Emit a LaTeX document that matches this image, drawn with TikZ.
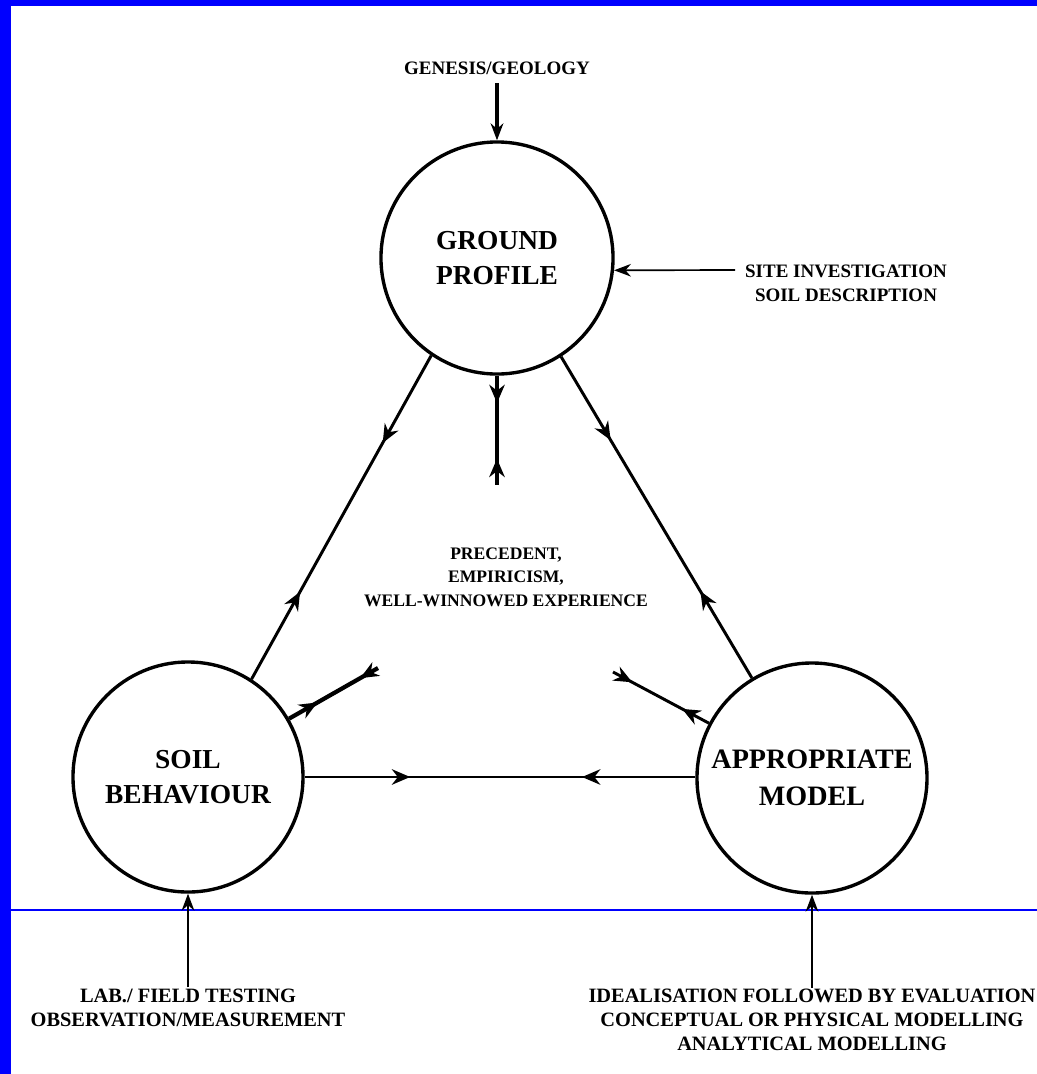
\documentclass[tikz,border=0pt]{standalone}
\usepackage{fontspec}
\setmainfont{Liberation Serif}
\usetikzlibrary{arrows.meta,decorations.markings}

\definecolor{frameblue}{RGB}{0,0,255}

\tikzset{
  phase/.style={circle, draw, line width=2.4pt, minimum size=5.75cm, inner sep=0pt,
    align=center, font=\fontsize{19.5}{25}\selectfont\bfseries},
  note/.style={align=center, inner sep=1pt, font=\fontsize{13.5}{17}\selectfont\bfseries},
  source/.style={align=center, inner sep=1pt, font=\fontsize{14.5}{17}\selectfont\bfseries},
  feed/.style={-{Stealth[length=12pt,width=9pt]}, line width=1.4pt},
  twoway/.style 2 args={line width=2.1pt, postaction={decorate},
    decoration={markings,
      mark=at position #1 with {\arrow{Stealth[length=13pt,width=11pt]}},
      mark=at position #2 with {\arrowreversed{Stealth[length=13pt,width=11pt]}}}}
}

\begin{document}
\begin{tikzpicture}[x=0.025cm, y=-0.025cm]
  % page and frame
  \useasboundingbox (0,0) rectangle (1037,1074);
  \fill[white] (0,0) rectangle (1037,1074);
  \fill[frameblue] (0,0) rectangle (11,1074);
  \fill[frameblue] (0,0) rectangle (1037,6);
  \draw[frameblue, line width=0.8pt] (11,910) -- (1037,910);
  % Ground profile
  \node[phase, minimum size=5.8cm] (gp) at (497,258) {GROUND\\PROFILE};
  \node[note] (genesis) at (497,68) {GENESIS/GEOLOGY};
  \draw[feed, line width=2.6pt, shorten <=5pt] (genesis.south) -- (gp.north);
  \node[note] (site) at (846,283) {SITE INVESTIGATION\\SOIL DESCRIPTION};
  \coordinate (siteend) at (735,270);
  \draw[feed, line width=1.2pt] (siteend) -- (gp.-6);
  % Soil behaviour
  \node[phase] (sb) at (188,777) {SOIL\\BEHAVIOUR};
  \node[source] (lab) at (188,1008) {LAB./ FIELD TESTING\\OBSERVATION/MEASUREMENT};
  \draw[feed] (lab.north) -- (sb.south);
  % Appropriate model
  \node[phase, font=\fontsize{20}{26}\selectfont\bfseries] (am) at (812,778) {APPROPRIATE\\MODEL};
  \node[source] (ideal) at (812,1020) {IDEALISATION FOLLOWED BY EVALUATION\\CONCEPTUAL OR PHYSICAL MODELLING\\ANALYTICAL MODELLING};
  \draw[feed] (ideal.north) -- (am.south);
  % Precedent
  \node[note, font=\fontsize{12.5}{16.7}\selectfont\bfseries] (prec) at (506,577)
    {PRECEDENT,\\EMPIRICISM,\\WELL-WINNOWED EXPERIENCE};
  \coordinate (gpend) at (497,485);
  \coordinate (sbend) at (378,668);
  \coordinate (amend) at (613,672);
  % triangle
  \draw[twoway={0.27}{0.73}] (gp.236) -- (sb.57);
  \draw[twoway={0.26}{0.73}] (gp.303) -- (am.121);
  \draw[twoway={0.27}{0.71}] (sb.east) -- (sb.east -| am.west);
  % towards precedent
  \draw[twoway={0.25}{0.76}, line width=3.4pt] (gp.south) -- (gpend);
  \draw[twoway={0.32}{0.8}, line width=3pt] (sb.30) -- (sbend);
  \draw[twoway={0.28}{0.8}] (am.152) -- (amend);
\end{tikzpicture}
\end{document}
